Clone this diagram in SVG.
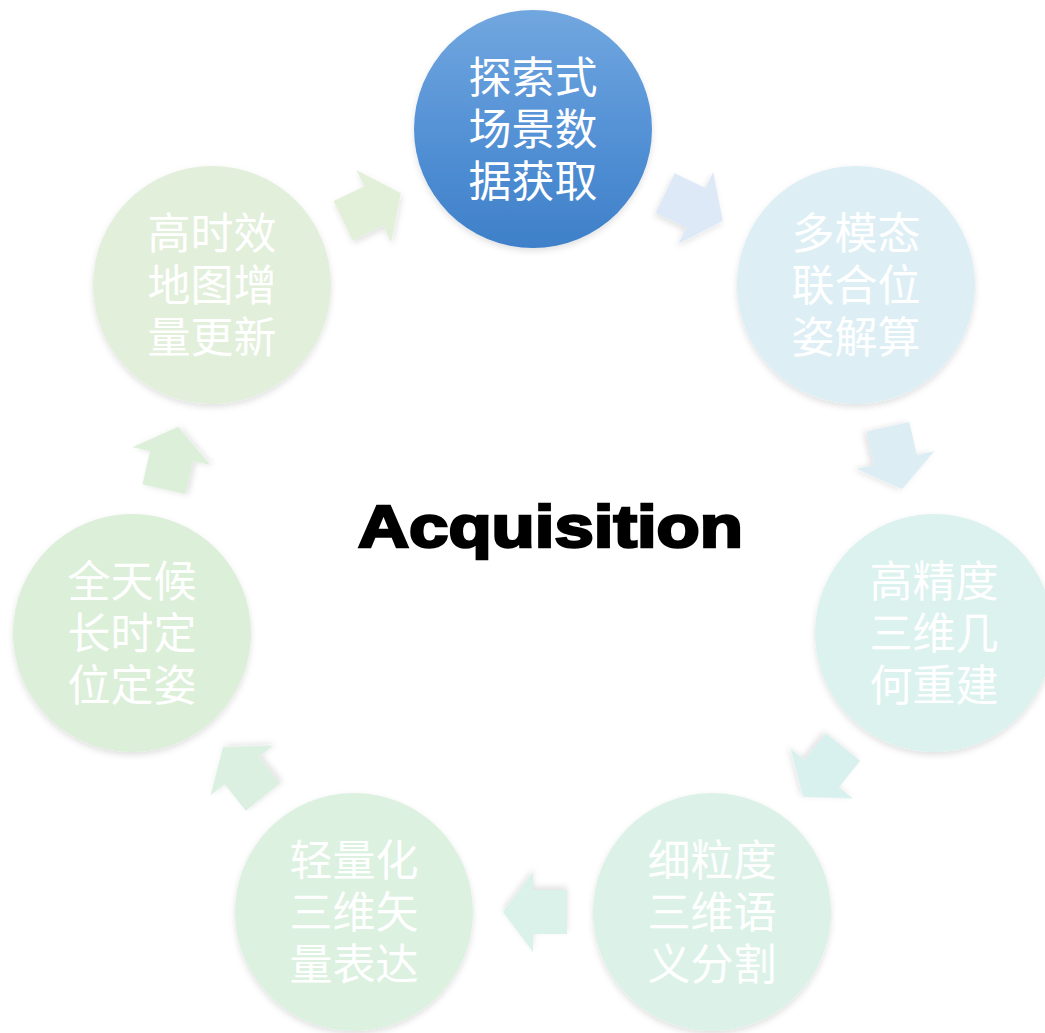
<svg xmlns="http://www.w3.org/2000/svg" width="1045" height="1033" viewBox="0 0 1045 1033">
  <defs>
    <linearGradient id="gTop" x1="0" y1="0" x2="0" y2="1">
      <stop offset="0" stop-color="#71a7df"/>
      <stop offset="0.5" stop-color="#5592d6"/>
      <stop offset="1" stop-color="#3e80c9"/>
    </linearGradient>
    <filter id="sh" x="-20%" y="-20%" width="140%" height="140%">
      <feDropShadow dx="0" dy="3" stdDeviation="3" flood-color="#000" flood-opacity="0.12"/>
    </filter>
    <path id="arr" d="M -32,-22 L 2,-22 L 2,-40 L 32,0 L 2,40 L 2,22 L -32,22 Z"/>
  </defs>
  <style>
    .lbl { font-family: "Liberation Sans", "Noto Sans CJK SC", sans-serif; font-size: 43px; font-weight: normal; fill: #ffffff; text-anchor: middle; }
    .node circle { filter: url(#sh); }
    .title { font-family: "Liberation Sans", Arial, sans-serif; font-weight: bold; font-size: 60px; fill: #000; stroke: #000; stroke-width: 2.6px; }
  </style>
  <rect width="1045" height="1033" fill="#ffffff"/>

  <g id="connectors">
    <use href="#arr" transform="translate(372,207) rotate(-25.71)" fill="#e2efd9" filter="url(#sh)"/>
    <use href="#arr" transform="translate(694,207) rotate(25.71)" fill="#dde9f6" filter="url(#sh)"/>
    <use href="#arr" transform="translate(895,458) rotate(77.14)" fill="#dcedf4" filter="url(#sh)"/>
    <use href="#arr" transform="translate(823,772) rotate(128.57)" fill="#d9f1ee" filter="url(#sh)"/>
    <use href="#arr" transform="translate(535,912) rotate(180)" fill="#daf2e9" filter="url(#sh)"/>
    <use href="#arr" transform="translate(243,772) rotate(231.43)" fill="#dbf0e0" filter="url(#sh)"/>
    <use href="#arr" transform="translate(171,458) rotate(282.86)" fill="#dcefd9" filter="url(#sh)"/>
  </g>

  <g id="node1" class="node">
    <circle cx="533" cy="129" r="119" fill="url(#gTop)"/>
    <text class="lbl" x="533" y="93">探索式</text>
    <text class="lbl" x="533" y="145">场景数</text>
    <text class="lbl" x="533" y="197">据获取</text>
  </g>
  <g id="node2" class="node">
    <circle cx="856" cy="285" r="119" fill="#ddeff5"/>
    <text class="lbl" x="856" y="249">多模态</text>
    <text class="lbl" x="856" y="301">联合位</text>
    <text class="lbl" x="856" y="353">姿解算</text>
  </g>
  <g id="node3" class="node">
    <circle cx="934" cy="633" r="119" fill="#dbf2ee"/>
    <text class="lbl" x="934" y="597">高精度</text>
    <text class="lbl" x="934" y="649">三维几</text>
    <text class="lbl" x="934" y="701">何重建</text>
  </g>
  <g id="node4" class="node">
    <circle cx="712" cy="912" r="119" fill="#dcf2e9"/>
    <text class="lbl" x="712" y="876">细粒度</text>
    <text class="lbl" x="712" y="928">三维语</text>
    <text class="lbl" x="712" y="980">义分割</text>
  </g>
  <g id="node5" class="node">
    <circle cx="354" cy="912" r="119" fill="#dcf1e0"/>
    <text class="lbl" x="354" y="876">轻量化</text>
    <text class="lbl" x="354" y="928">三维矢</text>
    <text class="lbl" x="354" y="980">量表达</text>
  </g>
  <g id="node6" class="node">
    <circle cx="132" cy="633" r="119" fill="#dcefd9"/>
    <text class="lbl" x="132" y="597">全天候</text>
    <text class="lbl" x="132" y="649">长时定</text>
    <text class="lbl" x="132" y="701">位定姿</text>
  </g>
  <g id="node7" class="node">
    <circle cx="212" cy="285" r="119" fill="#e2efdb"/>
    <text class="lbl" x="212" y="249">高时效</text>
    <text class="lbl" x="212" y="301">地图增</text>
    <text class="lbl" x="212" y="353">量更新</text>
  </g>

  <g id="center-title">
    <text class="title" x="358" y="547" textLength="385" lengthAdjust="spacingAndGlyphs">Acquisition</text>
  </g>
</svg>
